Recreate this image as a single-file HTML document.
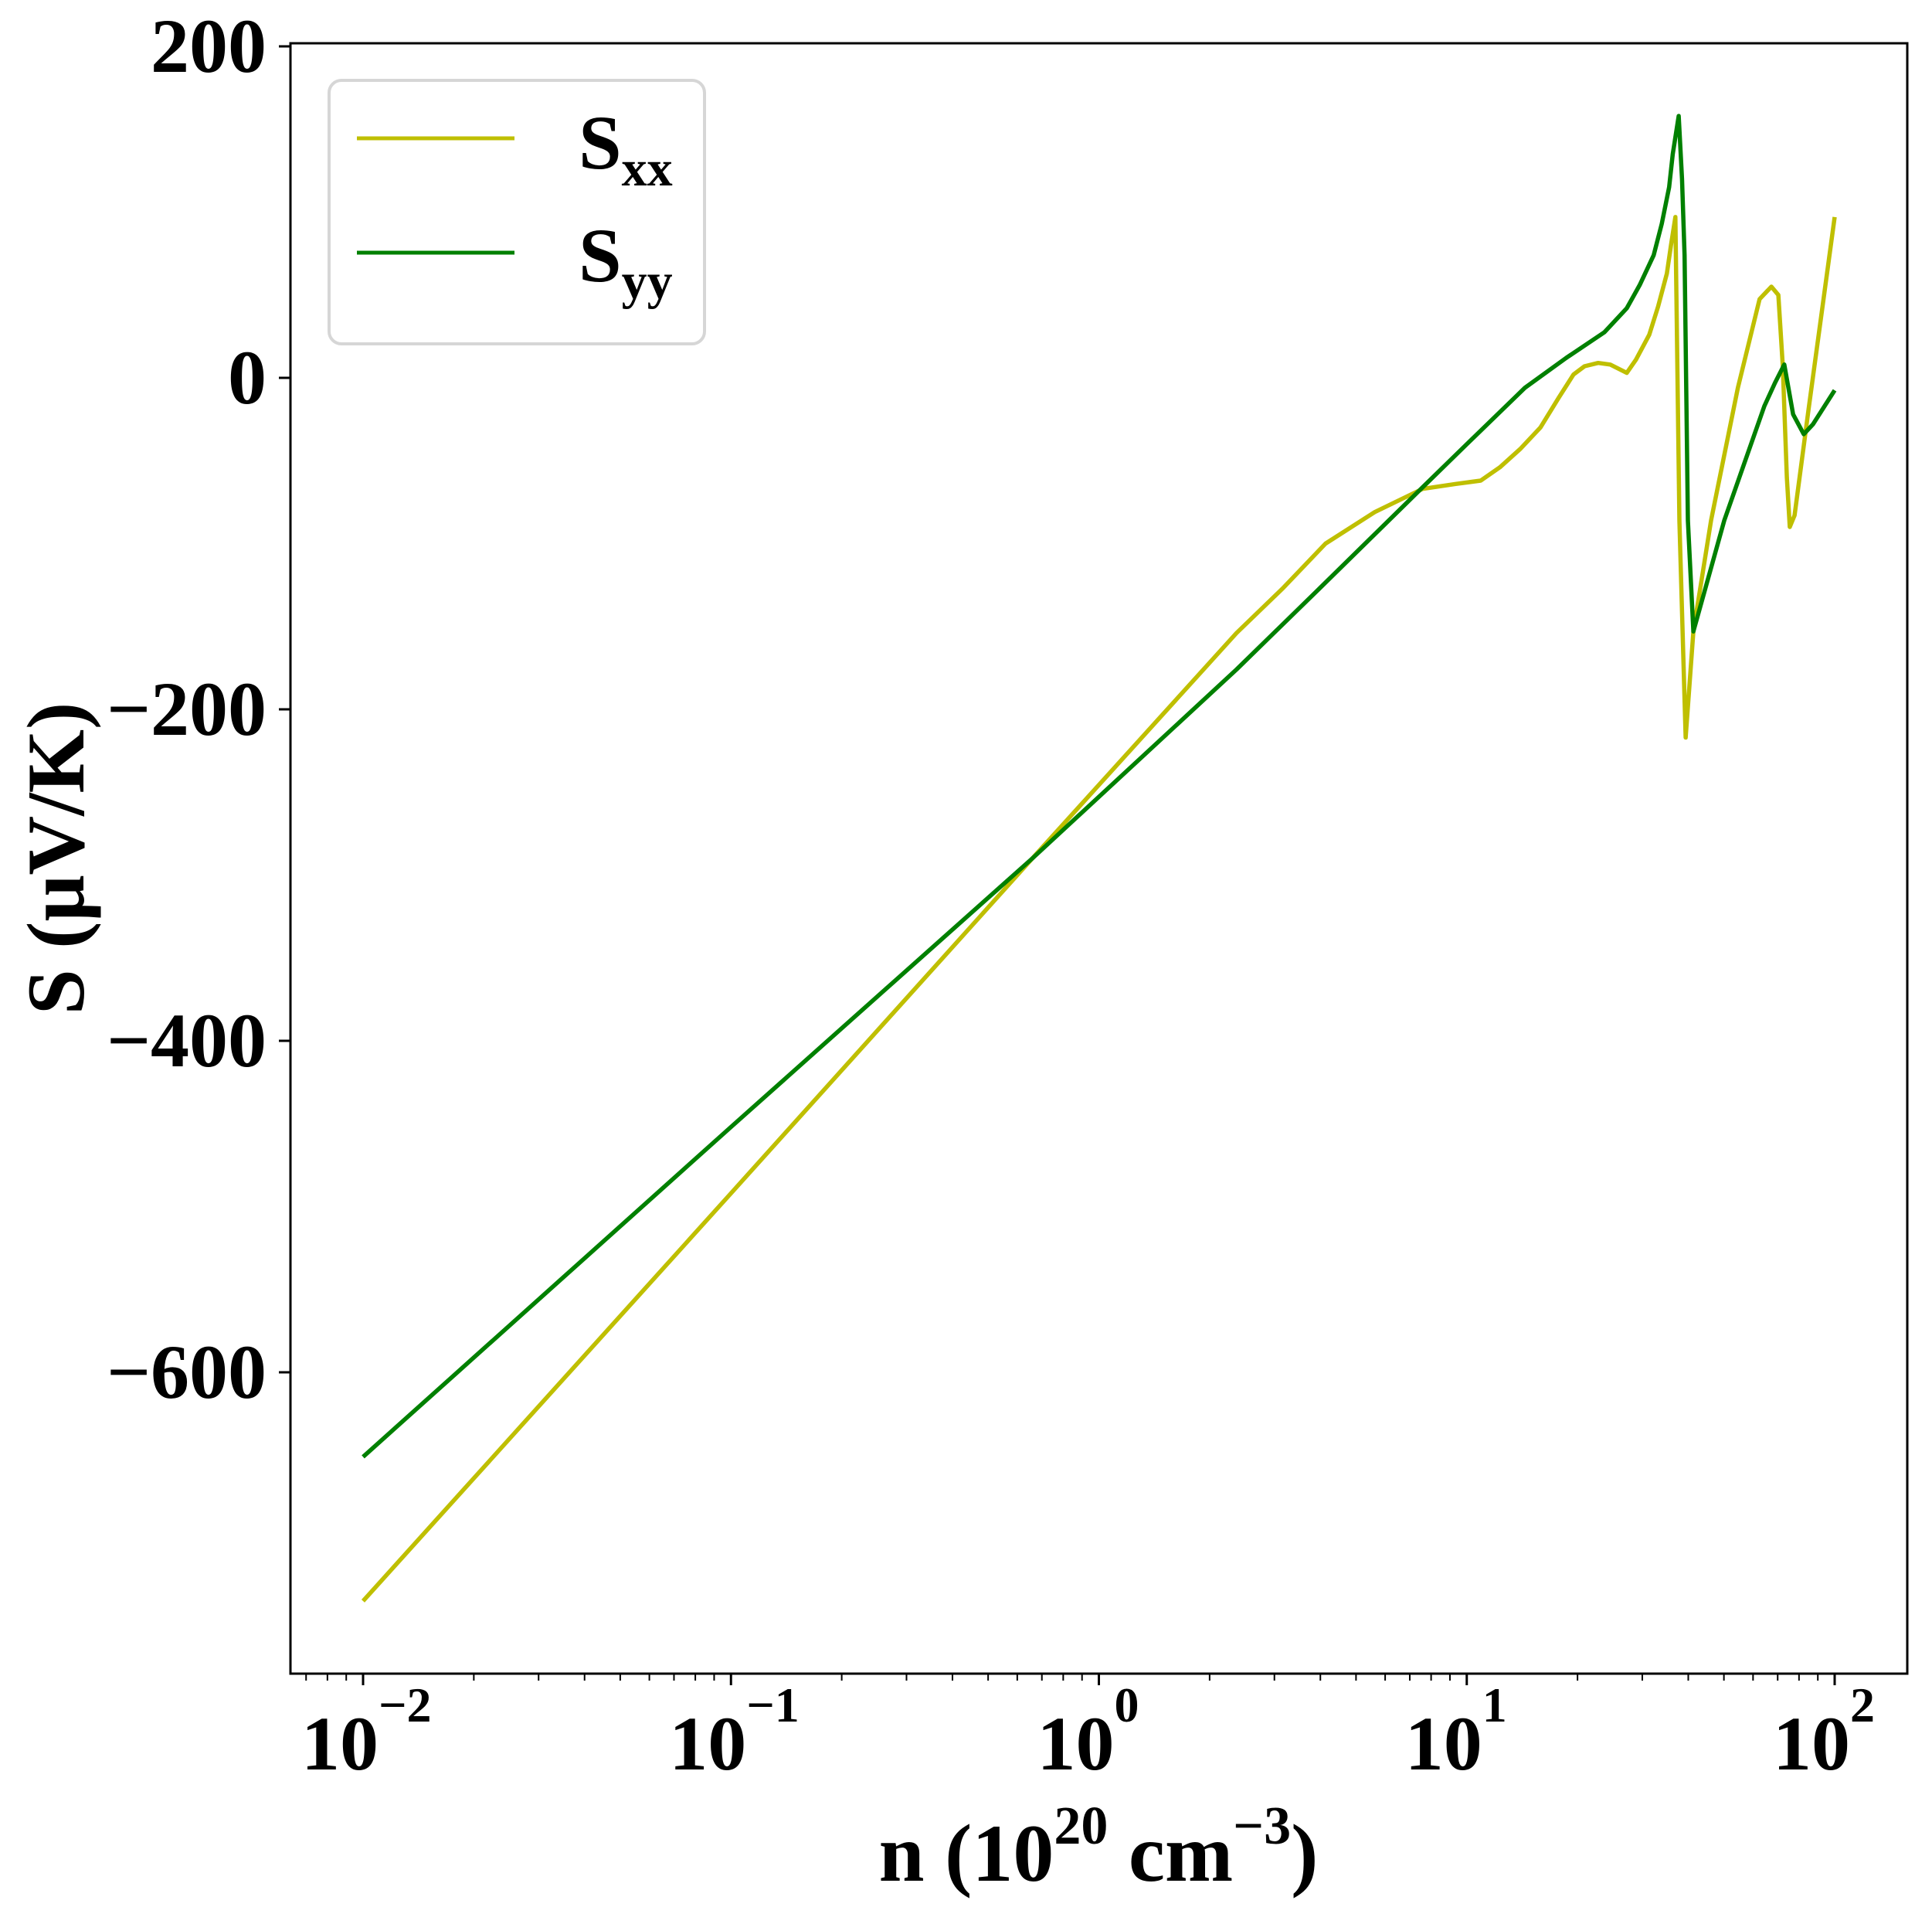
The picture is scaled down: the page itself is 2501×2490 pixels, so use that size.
<!DOCTYPE html>
<html><head><meta charset="utf-8"><style>
html,body{margin:0;padding:0;background:#fff;}
svg{display:block;font-family:"Liberation Serif","DejaVu Serif",serif;font-weight:bold;}
</style></head><body>
<svg id="chart" width="2501" height="2490" viewBox="0 0 2501 2490" xmlns="http://www.w3.org/2000/svg">
<rect x="0" y="0" width="2501" height="2490" fill="#fff"/>
<g id="plot"></g>
<g id="axes"></g>
<g>
  <rect x="426" y="104" width="486" height="341" rx="16" fill="#fff" fill-opacity="0.8" stroke="#d6d6d6" stroke-width="4"/>
  <line x1="462" y1="179" x2="666" y2="179" stroke="#bfbf00" stroke-width="5"/>
  <text x="749" y="218" font-size="100">S<tspan font-size="66" dy="22">xx</tspan></text>
  <line x1="462" y1="327" x2="666" y2="327" stroke="#008000" stroke-width="5"/>
  <text x="749" y="364" font-size="100">S<tspan font-size="66" dy="22">yy</tspan></text>
</g>
<text x="1422" y="2434" font-size="106" text-anchor="middle">n (10<tspan font-size="70" dy="-48">20</tspan><tspan dy="48"> cm</tspan><tspan font-size="70" dy="-48">−3</tspan><tspan dy="48">)</tspan></text>
<text transform="translate(108,1111) rotate(-90)" font-size="106" text-anchor="middle">S (μV/K)</text>
</svg>
<script>
// log10(n) values and S values (μV/K)
const sxxLogN = [-2, -1, -0.181, 0.374, 0.5, 0.616, 0.75, 0.88, 0.97, 1.038, 1.09, 1.145, 1.2, 1.25, 1.29, 1.32, 1.357, 1.39, 1.435, 1.46, 1.496, 1.52, 1.544, 1.555, 1.567, 1.578, 1.595, 1.616, 1.664, 1.737, 1.796, 1.828, 1.847, 1.859, 1.87, 1.878, 1.891, 1.929, 2.0];
const sxxValues = [-738, -492, -290, -154, -127, -100, -81, -67, -64, -62, -54, -43, -30, -12, 2, 7, 9, 8, 3, 11, 26, 43, 63, 80, 97, -86, -217, -153, -86, -6, 47.5, 55, 50, 7.5, -60, -90, -83, -19, 97];
const syyLogN = [-2, -1, -0.181, 0.374, 0.6, 0.88, 1.0, 1.158, 1.27, 1.374, 1.435, 1.47, 1.508, 1.53, 1.55, 1.56, 1.576, 1.585, 1.592, 1.601, 1.616, 1.7, 1.809, 1.838, 1.863, 1.887, 1.916, 1.941, 2.0];
const syyValues = [-651, -452, -290, -176, -127, -66, -40, -6, 12, 27.5, 42, 56, 74, 93, 115, 135, 158, 120, 74, -86, -153, -86, -17, -3, 8, -22, -34, -28, -7.5];
const yTicks = [200, 0, -200, -400, -600];
const yTickLabels = ["200", "0", "−200", "−400", "−600"];
const xTickExps = [-2, -1, 0, 1, 2];
const xTickLabels = ["−2", "−1", "0", "1", "2"];

const L = 376, R = 2469, T = 56, B = 2166;
function xs(lg) { return 470 + (lg + 2) * 476.25; }
function ys(v) { return 489 - v * 2.145; }
const NS = "http://www.w3.org/2000/svg";
function mk(tag, attrs, parent) {
  const e = document.createElementNS(NS, tag);
  for (const k in attrs) e.setAttribute(k, attrs[k]);
  parent.appendChild(e);
  return e;
}
const plot = document.getElementById('plot');
const axes = document.getElementById('axes');

function drawSeries(xsArr, vals, color, name) {
  let d = '';
  for (let i = 0; i < xsArr.length; i++) d += (i ? 'L' : 'M') + xs(xsArr[i]).toFixed(1) + ' ' + ys(vals[i]).toFixed(1);
  const p = mk('path', { d: d, fill: 'none', stroke: color, 'stroke-width': 5.5, 'stroke-linejoin': 'round' }, plot);
  
  
}
drawSeries(sxxLogN, sxxValues, '#bfbf00', 'line-sxx');
drawSeries(syyLogN, syyValues, '#008000', 'line-syy');

const frame = mk('rect', { x: L, y: T, width: R - L, height: B - T, fill: 'none', stroke: '#000', 'stroke-width': 3 }, axes);



yTicks.forEach((v, i) => {
  const y = ys(v);
  const t = mk('line', { x1: L - 15, y1: y, x2: L, y2: y, stroke: '#000', 'stroke-width': 3 }, axes);
  
  
  const lb = mk('text', { x: 345, y: y + 33, 'font-size': 100, 'text-anchor': 'end' }, axes);
  lb.textContent = yTickLabels[i];
  
  
});

xTickExps.forEach((e, i) => {
  const x = xs(e);
  const t = mk('line', { x1: x, y1: B, x2: x, y2: B + 15, stroke: '#000', 'stroke-width': 3 }, axes);
  
  
  const lb = mk('text', { x: x - 80, y: 2290, 'font-size': 100 }, axes);
  
  
  lb.appendChild(document.createTextNode('10'));
  const sp = mk('tspan', { 'font-size': 64, dy: -62 }, lb);
  sp.textContent = xTickLabels[i];
  for (let m = 2; m <= 9; m++) {
    const mx = xs(e + Math.log10(m) - 1);
    if (mx < L || mx > R) continue;
    const mt = mk('line', { x1: mx, y1: B, x2: mx, y2: B + 9, stroke: '#000', 'stroke-width': 2 }, axes);
    
    
  }
});
for (let m = 2; m <= 9; m++) {
  const mx = xs(2 + Math.log10(m));
  if (mx > R) continue;
  const mt = mk('line', { x1: mx, y1: B, x2: mx, y2: B + 9, stroke: '#000', 'stroke-width': 2 }, axes);
  
  
}
</script>
</body></html>
